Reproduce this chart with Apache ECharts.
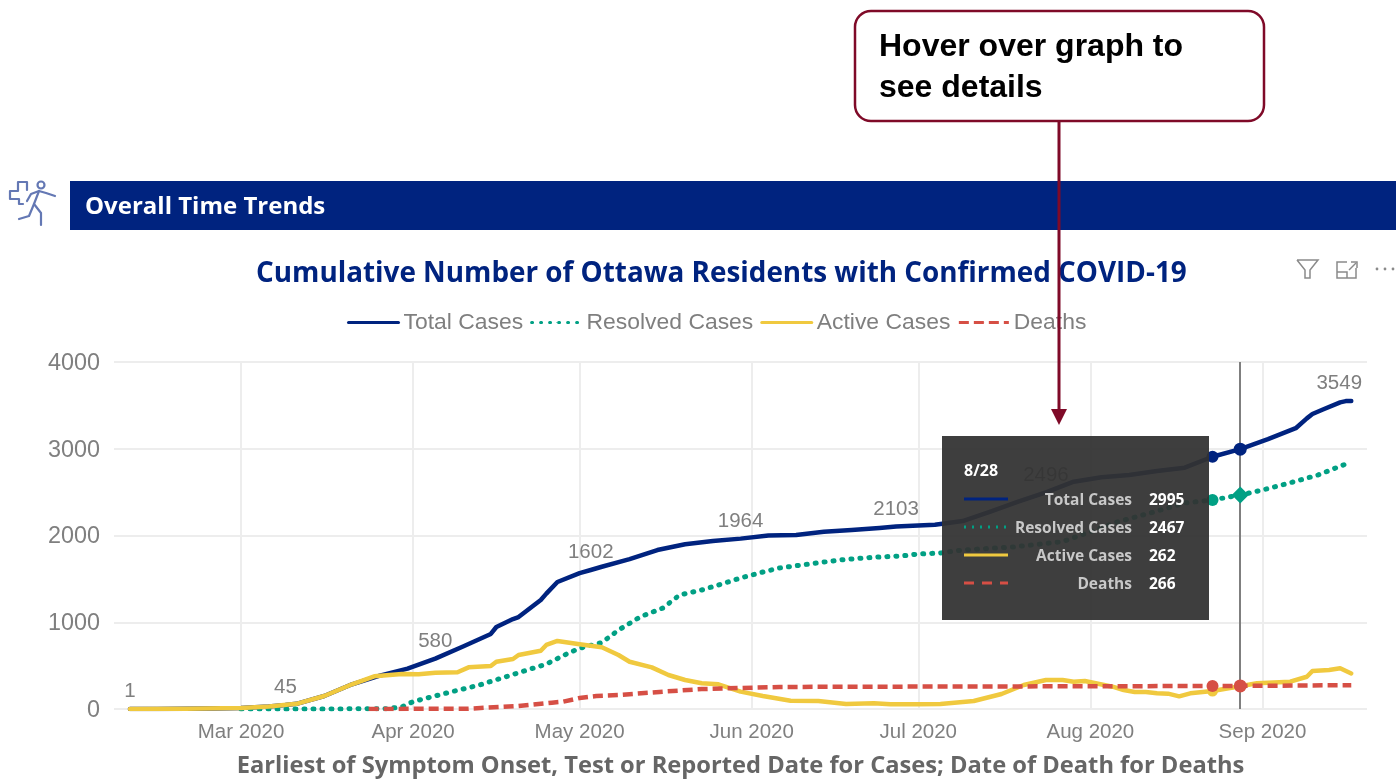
<!DOCTYPE html>
<html lang="en">
<head>
    <meta charset="UTF-8">
    <script src="https://cdn.jsdelivr.net/npm/echarts@6/dist/echarts.min.js"></script>
    <title>Overall Time Trends</title>
    <style>
        html, body { margin: 0; padding: 0; background: #fff; }
    </style>
</head>
<body>
<div id="main" style="width: 1396px;height:779px;"></div>
<script type="text/javascript">
    var totalDates = ['2020-02-10','2020-02-15','2020-02-20','2020-02-25','2020-03-01','2020-03-06','2020-03-09','2020-03-11','2020-03-16','2020-03-21','2020-03-26','2020-03-31','2020-04-05','2020-04-10','2020-04-15','2020-04-16','2020-04-19','2020-04-20','2020-04-24','2020-04-25','2020-04-27','2020-05-01','2020-05-03','2020-05-05','2020-05-10','2020-05-15','2020-05-20','2020-05-25','2020-05-30','2020-06-04','2020-06-09','2020-06-14','2020-06-19','2020-06-24','2020-06-27','2020-06-29','2020-07-04','2020-07-09','2020-07-14','2020-07-19','2020-07-24','2020-07-29','2020-08-03','2020-08-08','2020-08-13','2020-08-18','2020-08-23','2020-08-28','2020-09-02','2020-09-07','2020-09-09','2020-09-10','2020-09-12','2020-09-15','2020-09-16','2020-09-17'];
    var totalValues = [1,1,3,6,12,28,45,60,150,285,385,465,580,720,865,945,1037,1060,1256,1330,1464,1567,1602,1640,1727,1832,1900,1937,1964,2000,2005,2044,2063,2086,2103,2110,2125,2167,2275,2390,2496,2620,2672,2697,2743,2782,2908,2995,3110,3237,3350,3400,3456,3535,3549,3549];

    var resolvedDates = ['2020-03-01','2020-03-27','2020-03-30','2020-04-01','2020-04-08','2020-04-13','2020-04-20','2020-04-25','2020-04-29','2020-05-01','2020-05-05','2020-05-08','2020-05-12','2020-05-16','2020-05-19','2020-05-23','2020-05-26','2020-05-30','2020-06-03','2020-06-06','2020-06-10','2020-06-13','2020-06-17','2020-06-21','2020-06-24','2020-06-28','2020-07-01','2020-07-05','2020-07-09','2020-07-18','2020-07-27','2020-08-01','2020-08-06','2020-08-12','2020-08-18','2020-08-23','2020-08-28','2020-09-01','2020-09-06','2020-09-11','2020-09-16'];
    var resolvedValues = [0,2,25,85,200,277,418,518,645,700,765,910,1064,1164,1314,1372,1429,1510,1579,1625,1660,1686,1718,1740,1752,1764,1787,1798,1833,1867,1929,2044,2159,2263,2375,2409,2467,2524,2608,2697,2824];

    var activeDates = ['2020-02-10','2020-02-20','2020-03-01','2020-03-06','2020-03-11','2020-03-16','2020-03-21','2020-03-25','2020-03-30','2020-04-02','2020-04-05','2020-04-09','2020-04-11','2020-04-15','2020-04-16','2020-04-19','2020-04-20','2020-04-24','2020-04-25','2020-04-27','2020-05-01','2020-05-05','2020-05-08','2020-05-10','2020-05-14','2020-05-17','2020-05-20','2020-05-23','2020-05-26','2020-05-30','2020-06-03','2020-06-08','2020-06-13','2020-06-18','2020-06-23','2020-06-26','2020-07-01','2020-07-05','2020-07-11','2020-07-16','2020-07-20','2020-07-24','2020-07-27','2020-07-29','2020-07-31','2020-08-05','2020-08-07','2020-08-09','2020-08-11','2020-08-13','2020-08-15','2020-08-17','2020-08-19','2020-08-23','2020-08-28','2020-08-31','2020-09-06','2020-09-09','2020-09-10','2020-09-13','2020-09-15','2020-09-17'];
    var activeValues = [1,3,12,28,60,150,285,377,403,400,418,423,480,496,545,576,622,672,738,784,746,711,622,545,480,392,334,296,285,200,150,96,92,58,65,54,54,58,92,173,277,334,334,315,323,257,219,196,196,181,177,146,181,207,262,296,315,372,438,450,469,410];

    var deathDates = ['2020-03-24','2020-04-11','2020-04-20','2020-04-26','2020-04-28','2020-05-01','2020-05-04','2020-05-08','2020-05-16','2020-05-23','2020-05-30','2020-06-06','2020-06-21','2020-07-15','2020-08-23','2020-08-28','2020-09-17'];
    var deathValues = [0,4,35,73,84,127,150,161,200,230,242,254,257,260,265,266,275];

    var seriesNames = ['Total Cases', 'Resolved Cases', 'Active Cases', 'Deaths'];
    var seriesColors = ['#00237F', '#01A084', '#F0C93F', '#D64F45'];

    // dates that carry a value label on the total line
    var labelDates = ['2020-02-10','2020-03-09','2020-04-05','2020-05-03','2020-05-30','2020-06-27','2020-07-24','2020-09-17'];
    var yTicks = [0, 1000, 2000, 3000, 4000];
    var hoverDate = '2020-08-28';
    var prevHoverDate = '2020-08-23';
    var tooltipTitle = '8/28';
    var tooltipValues = ['2995', '2467', '262', '266'];

    var labelFont = '"Liberation Sans", Arial, sans-serif';
    var uiFont = '"Open Sans", "Noto Sans", sans-serif';
    var maroon = '#7F0A28';

    function pairs(dates, values) {
        return dates.map(function (d, i) { return [d, values[i]]; });
    }

    function valueAt(dates, values, date) {
        return values[dates.indexOf(date)];
    }

    function hoverPoints(dates, values, color, sym, size) {
        return [
            {coord: [prevHoverDate, valueAt(dates, values, prevHoverDate)], symbol: 'circle', symbolSize: 12, itemStyle: {color: color}, label: {show: false}},
            {coord: [hoverDate, valueAt(dates, values, hoverDate)], symbol: sym, symbolSize: size, itemStyle: {color: color}, label: {show: false}}
        ];
    }

    var totalLabels = labelDates.map(function (d) {
        var isLast = d === '2020-09-17';
        return {
            coord: [d, valueAt(totalDates, totalValues, d)],
            value: valueAt(totalDates, totalValues, d),
            symbol: 'circle',
            symbolSize: 0,
            label: {
                show: true,
                position: 'top',
                distance: 7,
                offset: isLast ? [-12, 0] : [0, 0],
                formatter: '{c}',
                color: '#7F7F7F',
                fontSize: 20.5,
                fontFamily: labelFont
            }
        };
    });

    function lineSeries(i, dates, values, lineStyle, extra) {
        var s = {
            name: seriesNames[i],
            type: 'line',
            symbol: 'none',
            smooth: false,
            data: pairs(dates, values),
            lineStyle: Object.assign({color: seriesColors[i], width: 4.5, cap: 'round', join: 'round'}, lineStyle),
            itemStyle: {color: seriesColors[i]},
            emphasis: {disabled: true}
        };
        return Object.assign(s, extra);
    }

    var series = [
        lineSeries(0, totalDates, totalValues, {}, {
            markPoint: {silent: true, data: totalLabels.concat(hoverPoints(totalDates, totalValues, seriesColors[0], 'circle', 13))},
            markLine: {
                silent: true,
                symbol: 'none',
                label: {show: false},
                lineStyle: {color: '#7F7F7F', width: 2, type: 'solid'},
                data: [{xAxis: hoverDate}]
            }
        }),
        lineSeries(1, resolvedDates, resolvedValues, {type: [1, 8], width: 5}, {
            markPoint: {silent: true, data: hoverPoints(resolvedDates, resolvedValues, seriesColors[1], 'diamond', 17)}
        }),
        lineSeries(2, activeDates, activeValues, {}, {
            markPoint: {silent: true, data: [{coord: [prevHoverDate, valueAt(activeDates, activeValues, prevHoverDate)], symbol: 'circle', symbolSize: 11, itemStyle: {color: seriesColors[2]}, label: {show: false}}]}
        }),
        lineSeries(3, deathDates, deathValues, {type: [10, 5], cap: 'butt'}, {
            markPoint: {silent: true, data: hoverPoints(deathDates, deathValues, seriesColors[3], 'circle', 13)}
        })
    ];

    // tooltip box, drawn fixed as in the screenshot
    var tooltipRows = [499, 527, 555, 583];
    var tooltipDash = [null, [2, 6], null, [10, 8]];
    var tooltipGraphics = [
        {type: 'rect', z: 100, shape: {x: 942, y: 436, width: 267, height: 184}, style: {fill: 'rgba(50,50,50,0.94)'}},
        {type: 'text', z: 101, x: 964, y: 471, style: {text: tooltipTitle, fill: '#fff', font: 'bold 16px ' + uiFont, textVerticalAlign: 'middle'}}
    ];
    tooltipRows.forEach(function (y, i) {
        tooltipGraphics.push({
            type: 'line', z: 101,
            shape: {x1: 964, y1: y, x2: 1008, y2: y},
            style: {stroke: seriesColors[i], lineWidth: 3, lineDash: tooltipDash[i]}
        });
        tooltipGraphics.push({
            type: 'text', z: 101, x: 1132, y: y + 1.5,
            style: {text: seriesNames[i], fill: '#C8C8C8', font: 'bold 15.5px ' + uiFont, textAlign: 'right', textVerticalAlign: 'middle'}
        });
        tooltipGraphics.push({
            type: 'text', z: 101, x: 1149, y: y + 1.5,
            style: {text: tooltipValues[i], fill: '#fff', font: 'bold 15.5px ' + uiFont, textVerticalAlign: 'middle'}
        });
    });

    var iconStroke = {fill: 'none', stroke: '#6478B4', lineWidth: 2.2, lineJoin: 'round', lineCap: 'round'};
    var toolStroke = {fill: 'none', stroke: '#8A8A8A', lineWidth: 1.5};

    function stroke(points, style) {
        return {type: 'polyline', z: 51, shape: {points: points}, style: style};
    }

    var decor = [
        // header band
        {type: 'rect', z: 50, shape: {x: 70, y: 181, width: 1326, height: 49}, style: {fill: '#00237F'}},
        {type: 'text', z: 51, x: 85, y: 207, style: {text: 'Overall Time Trends', fill: '#fff', font: 'bold 24px ' + uiFont, textVerticalAlign: 'middle'}},
        // runner icon
        stroke([[27, 190], [27, 182], [18, 182], [18, 191], [10, 191], [10, 199], [19, 199], [19, 204], [23, 204]], iconStroke),
        {type: 'circle', z: 51, shape: {cx: 41, cy: 185, r: 3.5}, style: iconStroke},
        stroke([[55, 196], [46, 193], [39, 191], [31, 194], [27, 201]], iconStroke),
        stroke([[39, 191], [34, 204], [41, 213], [41, 225]], iconStroke),
        stroke([[34, 204], [29, 216], [19, 219]], iconStroke),
        // visual header icons
        stroke([[1297, 260], [1318, 260], [1310, 270], [1310, 278], [1305, 278], [1305, 270], [1297, 260]], toolStroke),
        stroke([[1347, 262], [1337, 262], [1337, 278], [1356, 278], [1356, 268]], toolStroke),
        stroke([[1337, 272], [1347, 272], [1347, 278]], toolStroke),
        stroke([[1349, 270], [1356, 263]], toolStroke),
        stroke([[1351, 262], [1357, 262], [1357, 268]], toolStroke),
        {type: 'circle', z: 51, shape: {cx: 1377, cy: 269, r: 1.4}, style: {fill: '#8A8A8A'}},
        {type: 'circle', z: 51, shape: {cx: 1385, cy: 269, r: 1.4}, style: {fill: '#8A8A8A'}},
        {type: 'circle', z: 51, shape: {cx: 1393, cy: 269, r: 1.4}, style: {fill: '#8A8A8A'}},
        // callout with arrow
        {type: 'rect', z: 110, shape: {x: 855, y: 11, width: 409, height: 110, r: 16}, style: {fill: '#fff', stroke: maroon, lineWidth: 2.5}},
        {type: 'text', z: 111, x: 879, y: 47, style: {text: 'Hover over graph to', fill: '#000', font: 'bold 32px ' + labelFont, textVerticalAlign: 'middle'}},
        {type: 'text', z: 111, x: 879, y: 88, style: {text: 'see details', fill: '#000', font: 'bold 32px ' + labelFont, textVerticalAlign: 'middle'}},
        {type: 'line', z: 110, shape: {x1: 1059, y1: 121, x2: 1059, y2: 412}, style: {stroke: maroon, lineWidth: 3}},
        {type: 'polygon', z: 110, shape: {points: [[1051, 409], [1067, 409], [1059, 425]]}, style: {fill: maroon}}
    ];

    var myChart = echarts.init(document.getElementById('main'));

    var option = {
        animation: false,
        backgroundColor: '#fff',
        title: {
            text: 'Cumulative Number of Ottawa Residents with Confirmed COVID-19',
            left: 256,
            top: 260,
            padding: 0,
            textStyle: {color: '#00237F', fontFamily: uiFont, fontWeight: 'bold', fontSize: 27.85}
        },
        legend: {
            left: 347,
            top: 311,
            padding: 0,
            itemWidth: 50,
            itemHeight: 1,          // keeps the legend's marker dot hidden under the line
            itemGap: 7,
            textStyle: {color: '#7F7F7F', fontSize: 22.9, fontFamily: labelFont},
            lineStyle: {width: 3},
            data: seriesNames
        },
        grid: {left: 114, right: 29, top: 362, bottom: 69},
        xAxis: {
            type: 'time',
            min: '2020-02-07 03:00:00',
            max: '2020-09-19 20:00:00',
            minInterval: 28 * 86400000,
            name: 'Earliest of Symptom Onset, Test or Reported Date for Cases; Date of Death for Deaths',
            nameLocation: 'middle',
            nameGap: 45,
            nameTextStyle: {color: '#666666', fontFamily: uiFont, fontWeight: 'bold', fontSize: 23.7},
            axisLine: {show: false},
            axisTick: {show: false},
            axisLabel: {
                color: '#7F7F7F',
                fontSize: 20.5,
                fontFamily: labelFont,
                margin: 13,
                hideOverlap: false,
                showMinLabel: false,
                showMaxLabel: false,
                formatter: '{MMM} {yyyy}'
            },
            splitLine: {show: true, showMinLine: false, showMaxLine: false, lineStyle: {color: '#EDEDED', width: 2}}
        },
        yAxis: {
            type: 'value',
            min: yTicks[0],
            max: yTicks[yTicks.length - 1],
            interval: yTicks[1] - yTicks[0],
            axisLine: {show: false},
            axisTick: {show: false},
            axisLabel: {
                margin: 14,
                formatter: function (v) { return '{t|' + v + '}'; },
                rich: {
                    t: {color: '#7F7F7F', fontSize: 23.4, fontFamily: labelFont, padding: [3, 0, 0, 0]}
                }
            },
            splitLine: {lineStyle: {color: '#EDEDED', width: 2}}
        },
        series: series,
        graphic: {elements: decor.concat(tooltipGraphics)}
    };

    myChart.setOption(option);
</script>
</body>
</html>
